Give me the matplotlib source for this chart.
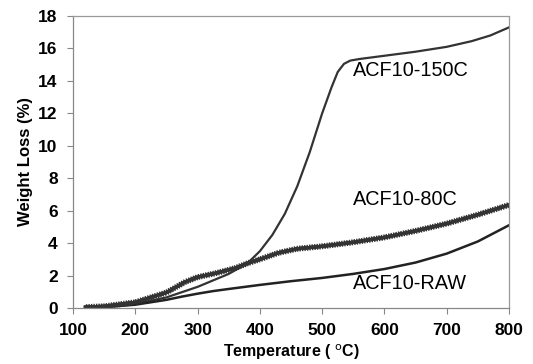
import matplotlib
matplotlib.use("Agg")
import matplotlib.pyplot as plt
from matplotlib import patheffects as pe

plt.rcParams['font.family'] = ['Liberation Sans', 'DejaVu Sans']

t_150 = [120, 150, 200, 250, 300, 350, 380, 400, 420, 440, 460, 480, 500, 515, 525, 535, 545, 560, 580, 600, 650, 700, 740, 770, 800]
w_150 = [0.0, 0.05, 0.25, 0.65, 1.3, 2.1, 2.75, 3.5, 4.5, 5.8, 7.5, 9.6, 12.0, 13.6, 14.55, 15.05, 15.25, 15.35, 15.45, 15.55, 15.8, 16.1, 16.45, 16.8, 17.3]

t_80 = [120, 150, 200, 250, 280, 300, 330, 360, 380, 400, 430, 460, 500, 550, 600, 650, 700, 750, 800]
w_80 = [0.05, 0.1, 0.35, 0.95, 1.6, 1.9, 2.15, 2.45, 2.75, 3.0, 3.4, 3.65, 3.8, 4.05, 4.35, 4.75, 5.2, 5.75, 6.35]

t_raw = [120, 150, 200, 250, 275, 300, 325, 350, 400, 450, 500, 550, 600, 650, 700, 750, 800]
w_raw = [0.0, 0.05, 0.2, 0.5, 0.7, 0.88, 1.04, 1.17, 1.42, 1.65, 1.85, 2.1, 2.4, 2.8, 3.35, 4.1, 5.1]

labels = ["ACF10-150C", "ACF10-80C", "ACF10-RAW"]
label_x = [549, 549, 549]
label_y = [14.65, 6.7, 1.48]

x_ticks = [100, 200, 300, 400, 500, 600, 700, 800]
y_ticks = [0, 2, 4, 6, 8, 10, 12, 14, 16, 18]

fig = plt.figure(figsize=(5.33, 3.64), dpi=100)
ax = fig.add_axes([0.137, 0.154, 0.818, 0.802])

ax.plot(t_150, w_150, color='#333333', lw=1.6)
ax.plot(t_raw, w_raw, color='#222222', lw=1.8)
ax.plot(t_80, w_80, color='#333333', lw=2.4,
        path_effects=[pe.withTickedStroke(angle=90, spacing=1.8, length=0.9, linewidth=1.0),
                      pe.withTickedStroke(angle=-90, spacing=1.8, length=0.9, linewidth=1.0),
                      pe.Normal()])

for s, xx, yy in zip(labels, label_x, label_y):
    ax.text(xx, yy, s, fontsize=14.3, ha='left', va='center', color='black')

ax.set_xlim(100, 800)
ax.set_ylim(0, 18)
ax.set_xticks(x_ticks)
ax.set_yticks(y_ticks)
for lab in ax.get_xticklabels() + ax.get_yticklabels():
    lab.set_fontweight('bold')
    lab.set_fontsize(12.5)
ax.tick_params(direction='out', length=4, color='#888888', width=0.8, pad=7)

ax.set_xlabel("Temperature ( $^{\\mathrm{o}}$C)", fontsize=11.5, fontweight='bold', labelpad=3)
ax.set_ylabel("Weight Loss (%)", fontsize=12, fontweight='bold', labelpad=4)

for side in ['left', 'bottom']:
    ax.spines[side].set_color('#888888')
    ax.spines[side].set_linewidth(0.9)
for side in ['top', 'right']:
    ax.spines[side].set_color('#999999')
    ax.spines[side].set_linestyle((0, (1, 1)))
    ax.spines[side].set_linewidth(0.9)

fig.savefig("out.png", dpi=100)
